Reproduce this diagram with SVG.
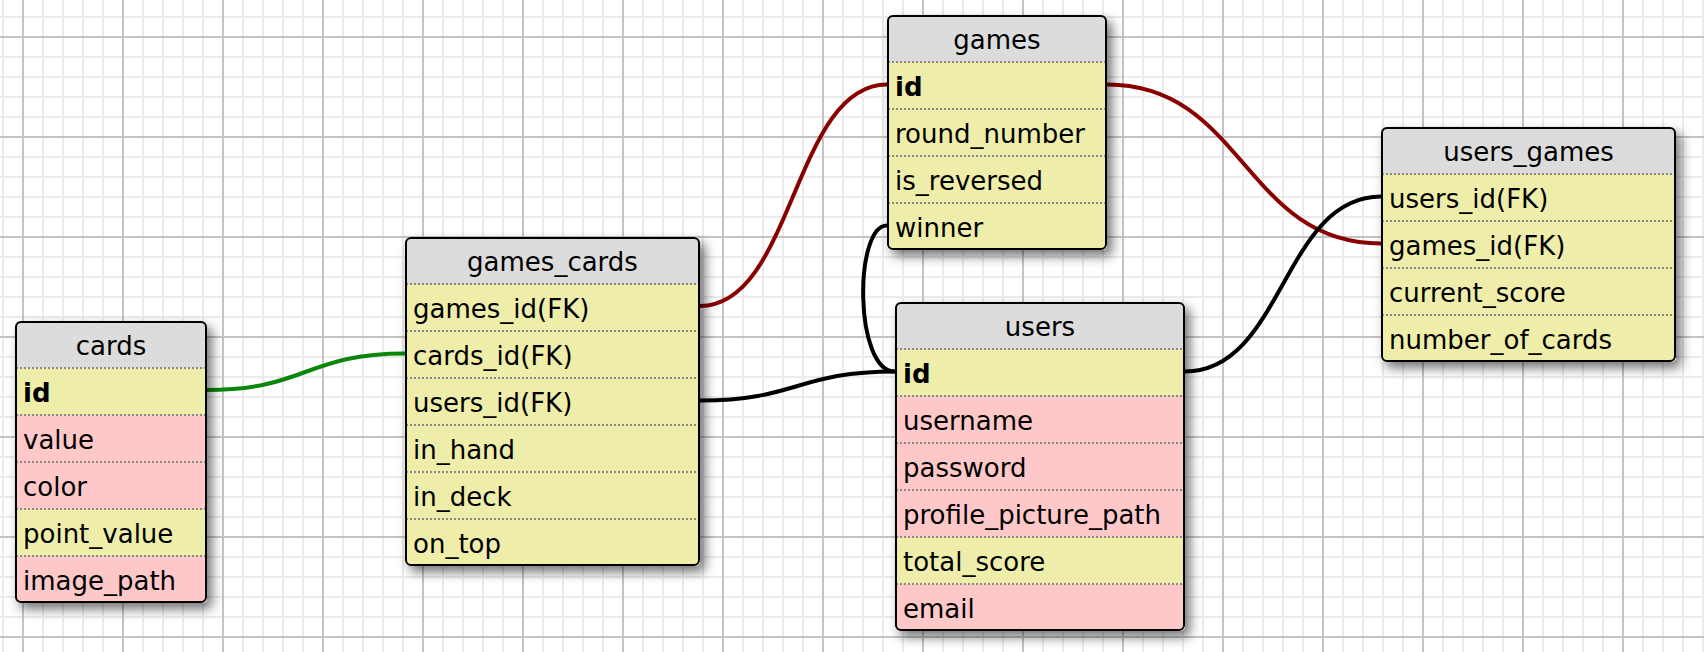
<svg xmlns="http://www.w3.org/2000/svg" width="1704" height="652" viewBox="0 0 1704 652">
<style>
text{font-family:Verdana,"DejaVu Sans",sans-serif;font-size:26px;fill:#000}
.hd{text-anchor:middle}
.pk{font-weight:bold}
.box{fill:#fff;stroke:none}
.frame{fill:none;stroke:#000;stroke-width:2}
.title{fill:#dcdcdc}
.y{fill:#eeeeaa}
.p{fill:#ffc8c8}
.sep{stroke:#888;stroke-width:2;stroke-dasharray:2 2;fill:none}
.rel{fill:none;stroke-width:4;stroke-linecap:round}
.red{stroke:#8a0000}
.grn{stroke:#0a870a}
.blk{stroke:#000}
</style>
<defs>
<pattern id="grid" patternUnits="userSpaceOnUse" x="22" y="36" width="100" height="100">
<rect width="100" height="100" fill="#fff"/>
<g fill="#ebebeb">
<rect x="20" y="0" width="2" height="100"/><rect x="40" y="0" width="2" height="100"/><rect x="60" y="0" width="2" height="100"/><rect x="80" y="0" width="2" height="100"/>
<rect x="0" y="20" width="100" height="2"/><rect x="0" y="40" width="100" height="2"/><rect x="0" y="60" width="100" height="2"/><rect x="0" y="80" width="100" height="2"/>
</g>
<g fill="#c4c4c4">
<rect x="0" y="0" width="2" height="100"/><rect x="0" y="0" width="100" height="2"/>
</g>
</pattern>
<filter id="sh" x="-20%" y="-20%" width="150%" height="150%">
<feDropShadow dx="5" dy="6" stdDeviation="6" flood-color="#000" flood-opacity="0.55"/>
</filter>
<clipPath id="c-cards"><rect x="15" y="321" width="192" height="282" rx="5"/></clipPath>
<clipPath id="c-gc"><rect x="405" y="237" width="295" height="329" rx="5"/></clipPath>
<clipPath id="c-games"><rect x="887" y="15" width="220" height="235" rx="5"/></clipPath>
<clipPath id="c-users"><rect x="895" y="302" width="290" height="329" rx="5"/></clipPath>
<clipPath id="c-ug"><rect x="1381" y="127" width="295" height="235" rx="5"/></clipPath>
</defs>
<rect width="1704" height="652" fill="url(#grid)"/>

<g id="connectors">
<path class="rel grn" d="M207,390 C306,390 306,353.5 405,353.5"/>
<path class="rel red" d="M700,306 C793.5,306 793.5,84.5 887,84.5"/>
<path class="rel red" d="M1107,84.5 C1244,84.5 1244,243.5 1381,243.5"/>
<path class="rel blk" d="M700,400.5 C797.5,400.5 797.5,371.5 895,371.5"/>
<path class="rel blk" d="M1185,371.5 C1283,371.5 1283,196.5 1381,196.5"/>
<path class="rel blk" d="M887,225.5 C854,225.5 854,371.5 895,371.5"/>
</g>

<g id="cards">
<rect class="box" x="15" y="321" width="192" height="282" rx="5" filter="url(#sh)"/>
<g clip-path="url(#c-cards)">
<rect class="title" x="15" y="321" width="192" height="47"/>
<rect class="y" x="15" y="368" width="192" height="47"/>
<rect class="p" x="15" y="415" width="192" height="47"/>
<rect class="p" x="15" y="462" width="192" height="47"/>
<rect class="y" x="15" y="509" width="192" height="47"/>
<rect class="p" x="15" y="556" width="192" height="47"/>
</g>
<path class="sep" d="M16,368H206M16,415H206M16,462H206M16,509H206M16,556H206"/>
<rect class="frame" x="16" y="322" width="190" height="280" rx="5"/>
<text class="hd" x="111" y="355">cards</text>
<text class="pk" x="23" y="402">id</text>
<text x="23" y="449">value</text>
<text x="23" y="496">color</text>
<text x="23" y="543">point_value</text>
<text x="23" y="590">image_path</text>
</g>

<g id="games_cards">
<rect class="box" x="405" y="237" width="295" height="329" rx="5" filter="url(#sh)"/>
<g clip-path="url(#c-gc)">
<rect class="title" x="405" y="237" width="295" height="47"/>
<rect class="y" x="405" y="284" width="295" height="282"/>
</g>
<path class="sep" d="M406,284H699M406,331H699M406,378H699M406,425H699M406,472H699M406,519H699"/>
<rect class="frame" x="406" y="238" width="293" height="327" rx="5"/>
<text class="hd" x="552.5" y="271">games_cards</text>
<text x="413" y="318">games_id(FK)</text>
<text x="413" y="365">cards_id(FK)</text>
<text x="413" y="412">users_id(FK)</text>
<text x="413" y="459">in_hand</text>
<text x="413" y="506">in_deck</text>
<text x="413" y="553">on_top</text>
</g>

<g id="games">
<rect class="box" x="887" y="15" width="220" height="235" rx="5" filter="url(#sh)"/>
<g clip-path="url(#c-games)">
<rect class="title" x="887" y="15" width="220" height="47"/>
<rect class="y" x="887" y="62" width="220" height="188"/>
</g>
<path class="sep" d="M888,62H1106M888,109H1106M888,156H1106M888,203H1106"/>
<rect class="frame" x="888" y="16" width="218" height="233" rx="5"/>
<text class="hd" x="997" y="49">games</text>
<text class="pk" x="895" y="96">id</text>
<text x="895" y="143">round_number</text>
<text x="895" y="190">is_reversed</text>
<text x="895" y="237">winner</text>
</g>

<g id="users">
<rect class="box" x="895" y="302" width="290" height="329" rx="5" filter="url(#sh)"/>
<g clip-path="url(#c-users)">
<rect class="title" x="895" y="302" width="290" height="47"/>
<rect class="y" x="895" y="349" width="290" height="47"/>
<rect class="p" x="895" y="396" width="290" height="141"/>
<rect class="y" x="895" y="537" width="290" height="47"/>
<rect class="p" x="895" y="584" width="290" height="47"/>
</g>
<path class="sep" d="M896,349H1184M896,396H1184M896,443H1184M896,490H1184M896,537H1184M896,584H1184"/>
<rect class="frame" x="896" y="303" width="288" height="327" rx="5"/>
<text class="hd" x="1040" y="336">users</text>
<text class="pk" x="903" y="383">id</text>
<text x="903" y="430">username</text>
<text x="903" y="477">password</text>
<text x="903" y="524">profile_picture_path</text>
<text x="903" y="571">total_score</text>
<text x="903" y="618">email</text>
</g>

<g id="users_games">
<rect class="box" x="1381" y="127" width="295" height="235" rx="5" filter="url(#sh)"/>
<g clip-path="url(#c-ug)">
<rect class="title" x="1381" y="127" width="295" height="47"/>
<rect class="y" x="1381" y="174" width="295" height="188"/>
</g>
<path class="sep" d="M1382,174H1675M1382,221H1675M1382,268H1675M1382,315H1675"/>
<rect class="frame" x="1382" y="128" width="293" height="233" rx="5"/>
<text class="hd" x="1528.5" y="161">users_games</text>
<text x="1389" y="208">users_id(FK)</text>
<text x="1389" y="255">games_id(FK)</text>
<text x="1389" y="302">current_score</text>
<text x="1389" y="349">number_of_cards</text>
</g>
</svg>
